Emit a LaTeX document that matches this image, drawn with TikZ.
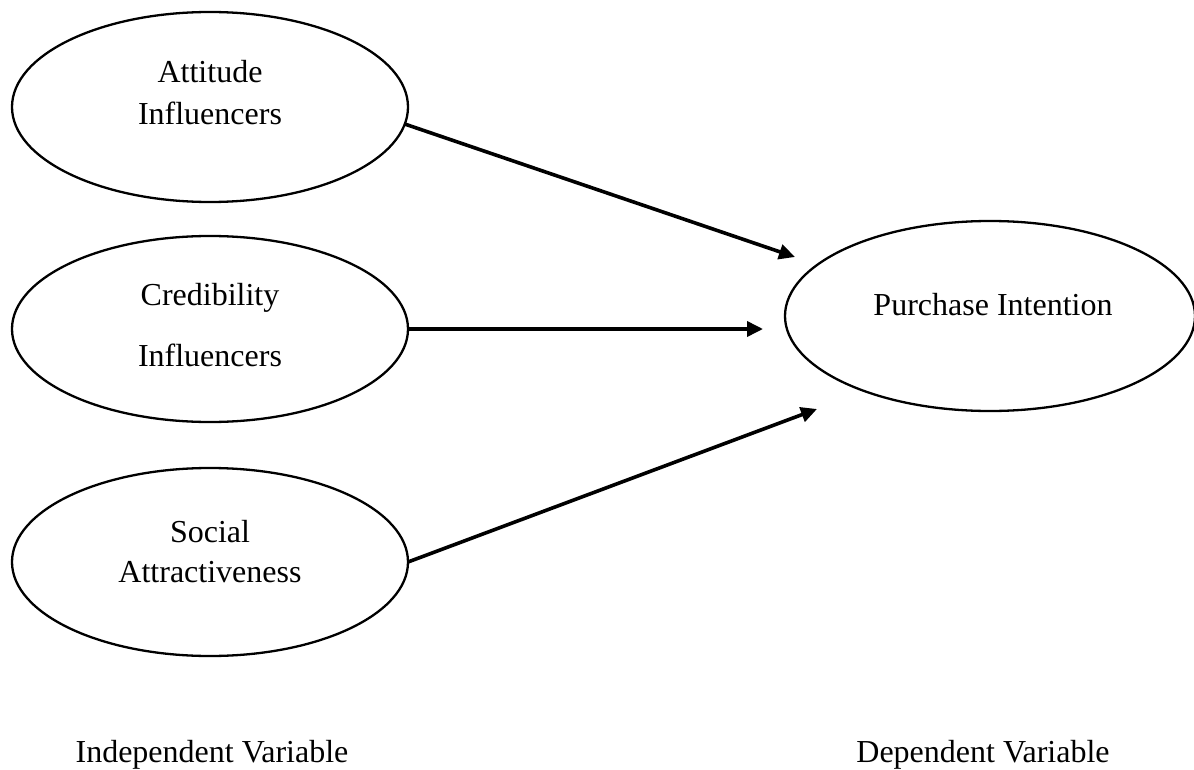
\documentclass[tikz,border=0pt]{standalone}
\usepackage{fontspec}
\setmainfont{Liberation Serif}
\usetikzlibrary{shapes.geometric,arrows.meta}
\begin{document}
\begin{tikzpicture}[x=1pt,y=-1pt,
  oval/.style={draw=black,line width=2.3pt,ellipse,inner sep=0pt,outer sep=0pt},
  txt/.style={anchor=base,inner sep=0pt,font=\fontsize{32}{42}\selectfont},
  link/.style={line width=3.6pt,-{Triangle[length=16pt,width=15pt]}}]
\useasboundingbox (0,0) rectangle (1194,770);
% ellipses
\node[oval,minimum width=396pt,minimum height=190pt] (att) at (210,107) {};
\node[oval,minimum width=396pt,minimum height=186pt] (cred) at (210,329) {};
\node[oval,minimum width=396pt,minimum height=188pt] (soc) at (210,562) {};
\node[oval,minimum width=410pt,minimum height=190pt] (pur) at (990,316) {};
% texts
\node[txt] (att1) at (210,83) {Attitude};
\node[txt] (att2) at (210,125) {Influencers};
\node[txt] (cred1) at (210,305) {Credibility};
\node[txt] (cred2) at (210,366) {Influencers};
\node[txt] (soc1) at (210,542) {Social};
\node[txt] (soc2) at (210,582) {Attractiveness};
\node[txt] (pur1) at (993,315) {Purchase Intention};
\node[txt] (ind) at (212,762) {Independent Variable};
\node[txt] (dep) at (983,762) {Dependent Variable};
% arrow ends
\coordinate (c1) at (795,257);
\coordinate (c2) at (763,329);
\coordinate (c3) at (817,409);
\draw[link] (att.-5) -- (c1);
\draw[link] (cred.east) -- (c2);
\draw[link] (soc.east) -- (c3);
\end{tikzpicture}
\end{document}
